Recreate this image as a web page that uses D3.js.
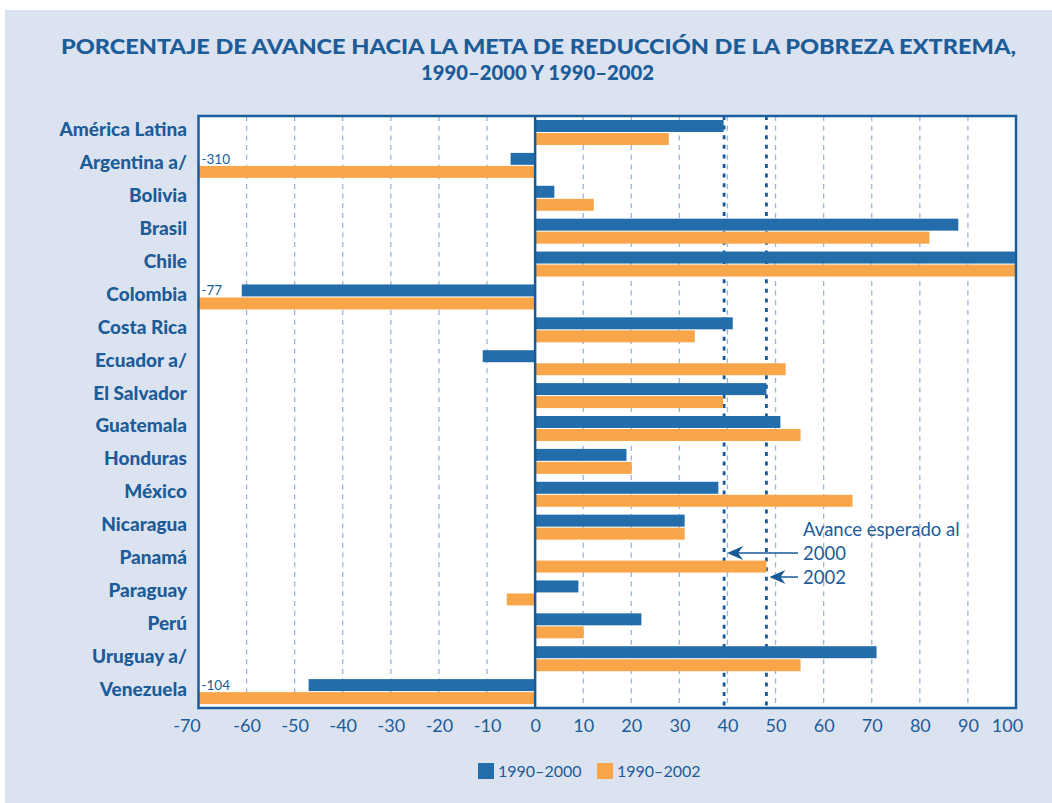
<!DOCTYPE html>
<html>
<head>
<meta charset="utf-8">
<script src="https://cdn.jsdelivr.net/npm/d3@7"></script>
<style>
  body { margin: 0; background: #ffffff; }
  svg text { font-family: Lato, "Open Sans", sans-serif; fill: #1b5c99; }
</style>
</head>
<body>
<div id="root"></div>
<script>
// ---------------------------- DATA ----------------------------
const categories = ["América Latina", "Argentina a/", "Bolivia", "Brasil", "Chile", "Colombia",
    "Costa Rica", "Ecuador a/", "El Salvador", "Guatemala", "Honduras", "México", "Nicaragua",
    "Panamá", "Paraguay", "Perú", "Uruguay a/", "Venezuela"];
const series = ["1990–2000", "1990–2002"];
const values2000 = [39.2, -5.1, 4.0, 88.0, 100, -61.0, 41.1, -10.9, 48.1, 51.0, 19.0, 38.1, 31.1, null, 9.0, 22.1, 71.0, -47.1];
const values2002 = [27.8, -310, 12.2, 82.0, 100, -77, 33.2, 52.1, 39.1, 55.2, 20.1, 66.0, 31.1, 48.1, -5.9, 10.1, 55.2, -104];
const tickValues = [-70, -60, -50, -40, -30, -20, -10, 0, 10, 20, 30, 40, 50, 60, 70, 80, 90, 100];
const expected = [{label: "2000", value: 39.3}, {label: "2002", value: 48.1}];

const colors = ["#236eaa", "#f9a54a"];
const textColor = "#1b5c99";

const width = 1052;
const height = 803;
const plot = {left: 198.5, right: 1016, top: 116, bottom: 708};

// ---------------------------- SETUP ----------------------------
const svg = d3.select("#root").append("svg")
    .attr("width", width)
    .attr("height", height);

svg.append("rect") // light background panel
    .attr("x", 5).attr("y", 10)
    .attr("width", width - 5).attr("height", height - 10)
    .attr("fill", "#dce3f0");

// Title
const title = svg.append("g")
    .style("font-weight", 900)
    .style("font-size", "20px");
title.append("text")
    .attr("x", 61).attr("y", 54)
    .attr("textLength", 955)
    .attr("lengthAdjust", "spacingAndGlyphs")
    .text("PORCENTAJE DE AVANCE HACIA LA META DE REDUCCIÓN DE LA POBREZA EXTREMA,");
title.append("text")
    .attr("x", 421).attr("y", 80)
    .attr("textLength", 233)
    .attr("lengthAdjust", "spacingAndGlyphs")
    .text("1990–2000 Y 1990–2002");

const x = d3.scaleLinear()
    .domain([-70, 100])
    .range([plot.left, plot.right])
    .clamp(true);
const y = d3.scaleBand()
    .domain(categories)
    .range([plot.top, plot.bottom]);
const ySub = d3.scaleBand()
    .domain(series)
    .range([4, 29])
    .paddingInner(0.08);

// Plot area
svg.append("rect")
    .attr("x", plot.left).attr("y", plot.top)
    .attr("width", plot.right - plot.left).attr("height", plot.bottom - plot.top)
    .attr("fill", "#ffffff");

// Dashed gridlines
svg.append("g").selectAll("line")
    .data(tickValues.filter(d => d != 0 && d != -70 && d != 100))
    .enter()
    .append("line")
    .attr("x1", d => x(d)).attr("x2", d => x(d))
    .attr("y1", plot.top).attr("y2", plot.bottom)
    .attr("stroke", "#9db4da")
    .attr("stroke-width", 1.3)
    .attr("stroke-dasharray", "5,4.7");

// Expected progress lines
svg.append("g").selectAll("line")
    .data(expected)
    .enter()
    .append("line")
    .attr("x1", d => x(d.value)).attr("x2", d => x(d.value))
    .attr("y1", plot.top).attr("y2", plot.bottom)
    .attr("stroke", "#175a98")
    .attr("stroke-width", 2.8)
    .attr("stroke-dasharray", "4,5.6");

// Bars
const rows = categories.map((c, i) => ({name: c, vals: [values2000[i], values2002[i]]}));
const rowG = svg.append("g").selectAll("g")
    .data(rows)
    .enter()
    .append("g")
    .attr("transform", d => "translate(0," + y(d.name) + ")");

rowG.selectAll("rect")
    .data(d => d.vals.map((v, i) => ({series: series[i], value: v, i: i})).filter(e => e.value != null))
    .enter()
    .append("rect")
    .attr("x", d => Math.min(x(0), x(d.value)))
    .attr("y", d => ySub(d.series))
    .attr("width", d => Math.abs(x(d.value) - x(0)))
    .attr("height", ySub.bandwidth())
    .attr("fill", d => colors[d.i]);

// Values beyond the left edge
rowG.selectAll("text.off")
    .data(d => d.vals.map((v, i) => ({series: series[i], value: v})).filter(e => e.value != null && e.value < -70))
    .enter()
    .append("text")
    .attr("class", "off")
    .attr("x", plot.left + 3)
    .attr("y", d => ySub(d.series) - 2)
    .style("font-size", "13.5px")
    .text(d => d.value);

// Zero line and frame
svg.append("line")
    .attr("x1", x(0)).attr("x2", x(0))
    .attr("y1", plot.top).attr("y2", plot.bottom)
    .attr("stroke", "#175a98")
    .attr("stroke-width", 2.5);

svg.append("rect")
    .attr("x", plot.left).attr("y", plot.top)
    .attr("width", plot.right - plot.left).attr("height", plot.bottom - plot.top)
    .attr("fill", "none")
    .attr("stroke", "#1a5e9e")
    .attr("stroke-width", 2.5);

// Category labels
svg.append("g").selectAll("text")
    .data(categories)
    .enter()
    .append("text")
    .attr("x", 187)
    .attr("y", d => y(d) + y.bandwidth() / 2 + 4)
    .attr("text-anchor", "end")
    .style("font-weight", 900)
    .style("font-size", "19px")
    .text(d => d);

// Axis
const axis = svg.append("g")
    .attr("transform", "translate(0," + plot.bottom + ")")
    .call(d3.axisBottom(x).tickValues(tickValues).tickFormat(d => String(d)).tickSize(0).tickPadding(11));
axis.select(".domain").remove();
axis.selectAll("text")
    .style("font-size", "18px")
    .style("font-family", "Lato, sans-serif")
    .attr("fill", textColor)
    .attr("dx", d => d == -70 ? -12 : (d == 100 ? -9 : 0)); // end labels sit inside, as in the original

// Annotation
svg.append("text")
    .attr("x", 803).attr("y", 536)
    .style("font-size", "18.5px")
    .text("Avance esperado al");
const annY = [553, 577];
const ann = svg.append("g").selectAll("g")
    .data(expected)
    .enter()
    .append("g");
ann.append("text")
    .attr("x", 803)
    .attr("y", (d, i) => annY[i] + 7)
    .style("font-size", "18.5px")
    .text(d => d.label);
ann.append("line")
    .attr("x1", 798)
    .attr("x2", d => x(d.value) + 10)
    .attr("y1", (d, i) => annY[i]).attr("y2", (d, i) => annY[i])
    .attr("stroke", "#175a98")
    .attr("stroke-width", 1.5);
ann.append("path")
    .attr("d", (d, i) => {
        const tx = x(d.value) + 3, ty = annY[i];
        return "M" + tx + "," + ty + "L" + (tx + 16) + "," + (ty - 7) + "L" + (tx + 11) + "," + ty + "L" + (tx + 16) + "," + (ty + 7) + "Z";
    })
    .attr("fill", "#175a98");

// Legend
const legend = svg.append("g").selectAll("g")
    .data(series)
    .enter()
    .append("g")
    .attr("transform", (d, i) => "translate(" + (478 + i * 119) + ",763)");
legend.append("rect")
    .attr("width", 16).attr("height", 16)
    .attr("fill", (d, i) => colors[i]);
legend.append("text")
    .attr("x", 20).attr("y", 14)
    .style("font-size", "16px")
    .text(d => d);
</script>
</body>
</html>
